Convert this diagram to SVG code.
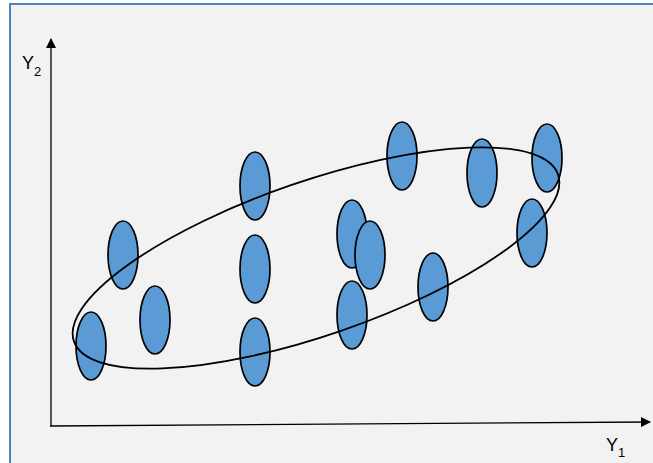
<svg xmlns="http://www.w3.org/2000/svg" width="653" height="463" viewBox="0 0 653 463">
<defs>
<style>
.pt{fill:#5b9bd5;stroke:#000;stroke-width:1.7}
.ax{stroke:#000;stroke-width:1.3;fill:none}
.lbl{font-family:"Liberation Sans",Arial,sans-serif;font-size:18px;fill:#000}
.sub{font-size:13px}
</style>
<marker id="arr" markerWidth="10" markerHeight="10" refX="9" refY="5" orient="auto" markerUnits="userSpaceOnUse">
<path d="M0,0 L10,5 L0,10 z" fill="#000"/>
</marker>
</defs>
<rect x="0" y="0" width="653" height="463" fill="#ffffff"/>
<rect x="10" y="4" width="660" height="480" fill="#f2f2f2" stroke="#4f81bd" stroke-width="2"/>
<g id="axes">
<line class="ax" x1="51" y1="426" x2="51" y2="39" marker-end="url(#arr)"/>
<line class="ax" x1="50" y1="426" x2="650" y2="422" marker-end="url(#arr)"/>
</g>
<g id="points">
<ellipse id="p1" class="pt" cx="91" cy="346" rx="15" ry="34"/>
<ellipse id="p2" class="pt" cx="123" cy="255" rx="15" ry="34"/>
<ellipse id="p3" class="pt" cx="155" cy="320" rx="15" ry="34"/>
<ellipse id="p4" class="pt" cx="255" cy="186" rx="15" ry="34"/>
<ellipse id="p5" class="pt" cx="255" cy="269" rx="15" ry="34"/>
<ellipse id="p6" class="pt" cx="255" cy="352" rx="15" ry="34"/>
<ellipse id="p7" class="pt" cx="352" cy="234" rx="15" ry="34"/>
<ellipse id="p8" class="pt" cx="370" cy="255" rx="15" ry="34"/>
<ellipse id="p9" class="pt" cx="352" cy="315" rx="15" ry="34"/>
<ellipse id="p10" class="pt" cx="402" cy="156" rx="15" ry="34"/>
<ellipse id="p11" class="pt" cx="433" cy="287" rx="15" ry="34"/>
<ellipse id="p12" class="pt" cx="482" cy="173" rx="15" ry="34"/>
<ellipse id="p13" class="pt" cx="547" cy="158" rx="15" ry="34"/>
<ellipse id="p14" class="pt" cx="532" cy="233" rx="15" ry="34"/>
</g>
<g id="cluster">
<ellipse cx="316" cy="258" rx="256" ry="77" transform="rotate(-19 316 258)" fill="none" stroke="#000" stroke-width="1.8"/>
</g>
<g id="labels">
<text class="lbl" x="22" y="69">Y<tspan class="sub" dy="7">2</tspan></text>
<text class="lbl" x="606" y="451">Y<tspan class="sub" dy="6">1</tspan></text>
</g>
</svg>
